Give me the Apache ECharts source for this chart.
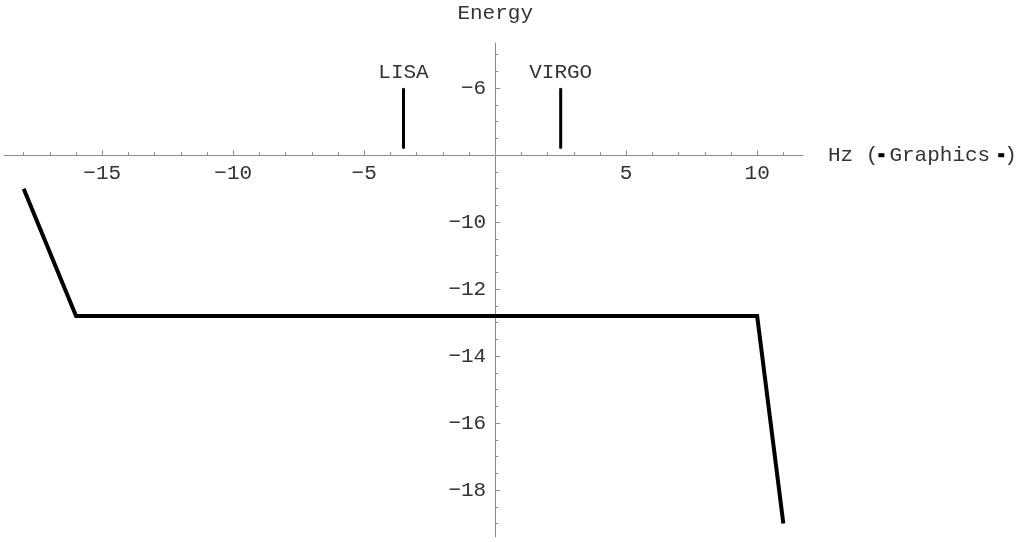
<!DOCTYPE html>
<html>
<head>
<meta charset="utf-8">
<script src="https://cdn.jsdelivr.net/npm/echarts@6/dist/echarts.min.js"></script>
<style>
    html, body { margin: 0; padding: 0; background: #fff; }
    #chart { width: 1024px; height: 542px; }
</style>
</head>
<body>
<div id="chart"></div>
<script>
// 能量曲线 (Hz, Energy)
const hz = [-18, -16, 10, 11];
const energy = [-9, -12.8, -12.8, -19];

// 探测器标记
const detectorNames = ['LISA', 'VIRGO'];
const detectorHz = [-3.5, 2.5];
const detectorTop = [-6, -6];
const detectorBottom = [-7.8, -7.8];

// 刻度
const xLabelValues = [-15, -10, -5, 5, 10];
const xMinorValues = [-18, -17, -16, -14, -13, -12, -11, -9, -8, -7, -6, -4, -3, -2, -1,
    1, 2, 3, 4, 6, 7, 8, 9, 11];
const yLabelValues = [-18, -16, -14, -12, -10, -6];
const yMajorValues = [-18, -16, -14, -12, -10, -6];
const yMinorValues = [-19, -18.5, -17.5, -17, -16.5, -15.5, -15, -14.5, -13.5, -13, -12.5,
    -11.5, -11, -10.5, -9.5, -9, -8.5, -7.5, -7, -6.5, -5.5, -5];

const xMin = -18.75, xMax = 11.75;
const yMin = -19.4, yMax = -4.65;
const gridLeft = 4, gridWidth = 799, gridTop = 43, gridHeight = 494;

// 坐标轴交点 (0, -8)
const xCross = 0, yCross = -8;
const xAxisOffset = -((yCross - yMin) / (yMax - yMin) * gridHeight);
const yAxisOffset = -((xCross - xMin) / (xMax - xMin) * gridWidth);

const font = 'Liberation Mono';
const textColor = '#333';
const axisColor = '#8c8c8c';

function fmt(v) {
    return String(v).replace('-', '\u2212');
}

const chart = echarts.init(document.getElementById('chart'));

function xAxisBase(extra) {
    return Object.assign({
        type: 'value',
        min: xMin,
        max: xMax,
        position: 'bottom',
        offset: xAxisOffset,
        splitLine: { show: false },
        axisLine: { show: true, lineStyle: { color: axisColor, width: 1 } }
    }, extra);
}

function yAxisBase(extra) {
    return Object.assign({
        type: 'value',
        min: yMin,
        max: yMax,
        position: 'left',
        offset: yAxisOffset,
        splitLine: { show: false },
        axisLine: { show: true, lineStyle: { color: axisColor, width: 1 } }
    }, extra);
}

const detectorSeries = detectorNames.map(function (name, i) {
    return {
        name: name,
        type: 'line',
        xAxisIndex: 0,
        yAxisIndex: 0,
        symbol: 'circle',
        symbolSize: 1,
        showSymbol: true,
        silent: true,
        itemStyle: { color: '#000' },
        lineStyle: { color: '#000', width: 3, cap: 'butt' },
        data: [
            {
                value: [detectorHz[i], detectorTop[i]],
                label: {
                    show: true,
                    position: 'top',
                    distance: 5,
                    formatter: name,
                    fontFamily: font,
                    fontSize: 21,
                    color: textColor
                }
            },
            [detectorHz[i], detectorBottom[i]]
        ]
    };
});

chart.setOption({
    animation: false,
    backgroundColor: '#fff',
    grid: {
        left: gridLeft,
        top: gridTop,
        width: gridWidth,
        height: gridHeight,
        containLabel: false,
        outerBoundsMode: 'none'
    },
    xAxis: [
        xAxisBase({
            name: '{t|Hz (}{b| }{s1| }{t|Graphics}{s2| }{b| }{t|)}',
            nameLocation: 'end',
            nameGap: 25,
            nameTextStyle: {
                fontFamily: font,
                fontSize: 21,
                color: textColor,
                rich: {
                    t: { fontFamily: font, fontSize: 21, color: textColor },
                    b: { width: 6, height: 4, backgroundColor: '#000', padding: 0 },
                    s1: { width: 5 },
                    s2: { width: 8 }
                }
            },
            axisTick: {
                show: true,
                inside: true,
                length: 5,
                customValues: xLabelValues,
                lineStyle: { color: axisColor }
            },
            axisLabel: {
                show: true,
                customValues: xLabelValues,
                margin: 8,
                fontFamily: font,
                fontSize: 21,
                color: textColor,
                formatter: fmt
            }
        }),
        xAxisBase({
            axisLine: { show: false },
            axisTick: {
                show: true,
                inside: true,
                length: 3,
                customValues: xMinorValues,
                lineStyle: { color: axisColor }
            },
            axisLabel: { show: false }
        })
    ],
    yAxis: [
        yAxisBase({
            name: 'Energy',
            nameLocation: 'end',
            nameGap: 19,
            nameTextStyle: {
                fontFamily: font,
                fontSize: 21,
                color: textColor
            },
            axisTick: {
                show: true,
                inside: true,
                length: 5,
                customValues: yMajorValues,
                lineStyle: { color: axisColor }
            },
            axisLabel: {
                show: true,
                customValues: yLabelValues,
                margin: 9,
                fontFamily: font,
                fontSize: 21,
                color: textColor,
                formatter: fmt
            }
        }),
        yAxisBase({
            axisLine: { show: false },
            axisTick: {
                show: true,
                inside: true,
                length: 3,
                customValues: yMinorValues,
                lineStyle: { color: axisColor }
            },
            axisLabel: { show: false }
        })
    ],
    series: [
        {
            name: 'Energy',
            type: 'line',
            xAxisIndex: 0,
            yAxisIndex: 0,
            symbol: 'none',
            silent: true,
            lineStyle: { color: '#000', width: 4, join: 'miter' },
            data: hz.map(function (x, i) { return [x, energy[i]]; })
        }
    ].concat(detectorSeries)
});
</script>
</body>
</html>
